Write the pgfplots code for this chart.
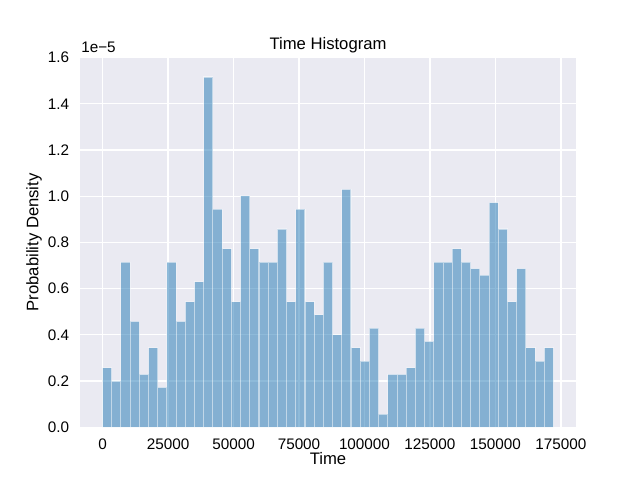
\documentclass[border=0pt]{standalone}
\usepackage{fontspec}
\setmainfont{Liberation Sans}
\usepackage{pgfplots}
\pgfplotsset{compat=1.18}
\usepackage{pgfplotstable}
\definecolor{bgc}{HTML}{EAEAF2}
\definecolor{c0}{HTML}{1F77B4}
\pgfplotstableread{
x y
0 0.257
3513 0.200
7026 0.715
10539 0.458
14052 0.229
17565 0.343
21078 0.172
24591 0.715
28104 0.458
31618 0.543
35131 0.629
38644 1.516
42157 0.944
45670 0.772
49183 0.543
52696 1.001
56209 0.772
59722 0.715
63235 0.715
66748 0.858
70261 0.543
73774 0.944
77287 0.543
80800 0.486
84313 0.715
87827 0.400
91340 1.030
94853 0.343
98366 0.286
101879 0.429
105392 0.057
108905 0.229
112418 0.229
115931 0.257
119444 0.429
122957 0.372
126470 0.715
129983 0.715
133496 0.772
137009 0.715
140522 0.686
144036 0.658
147549 0.972
151062 0.858
154575 0.543
158088 0.686
161601 0.343
165114 0.286
168627 0.343
172140 0.343
}\histdata
\begin{document}
\begin{tikzpicture}
\useasboundingbox (0,0) rectangle (6.4in,4.8in);
\fill[white] (0,0) rectangle (6.4in,4.8in);
\begin{axis}[
  name=ax,
  at={(0.8in,0.528in)}, anchor=south west,
  width=4.96in, height=3.696in, scale only axis,
  xmin=-8607, xmax=180747, ymin=0, ymax=1.6,
  axis background/.style={fill=bgc},
  axis line style={draw=none},
  major tick length=0pt, tick style={draw=none},
  grid=major, major grid style={white, line width=1bp},
  xtick={0,25000,50000,75000,100000,125000,150000,175000},
  ytick={0,0.2,0.4,0.6,0.8,1.0,1.2,1.4,1.6},
  scaled x ticks=false, scaled y ticks=false,
  /pgf/number format/assume math mode=true,
  xticklabel style={font=\fontsize{11bp}{13bp}\selectfont, inner sep=0pt, anchor=north, yshift=-7.9bp,
    /pgf/number format/.cd, fixed, set thousands separator={}},
  yticklabel style={font=\fontsize{11bp}{13bp}\selectfont, inner sep=0pt, anchor=east, xshift=-7.7bp,
    /pgf/number format/.cd, fixed, fixed zerofill, precision=1},
  xlabel={Time},
  xlabel style={font=\fontsize{12bp}{14bp}\selectfont, inner sep=0pt, at={(axis description cs:0.5,-0.1009)}, anchor=base},
  ylabel={Probability Density},
  ylabel style={font=\fontsize{12bp}{14bp}\selectfont, inner sep=0pt, at={(axis description cs:-0.0837,0.5)}, anchor=base},
]
\addplot[ybar interval, fill=c0, fill opacity=0.5, draw=white, draw opacity=0.5, line width=0.75bp] table[x=x,y=y] {\histdata};
\end{axis}
\node[font=\fontsize{12bp}{14bp}\selectfont, inner sep=0pt, anchor=base] at ([yshift=0.083in]ax.north) {Time Histogram};
\node[font=\fontsize{11bp}{13bp}\selectfont, inner sep=0pt, anchor=base west] at ([xshift=0.01in, yshift=0.0492in]ax.north west) {1e−5};
\end{tikzpicture}
\end{document}
